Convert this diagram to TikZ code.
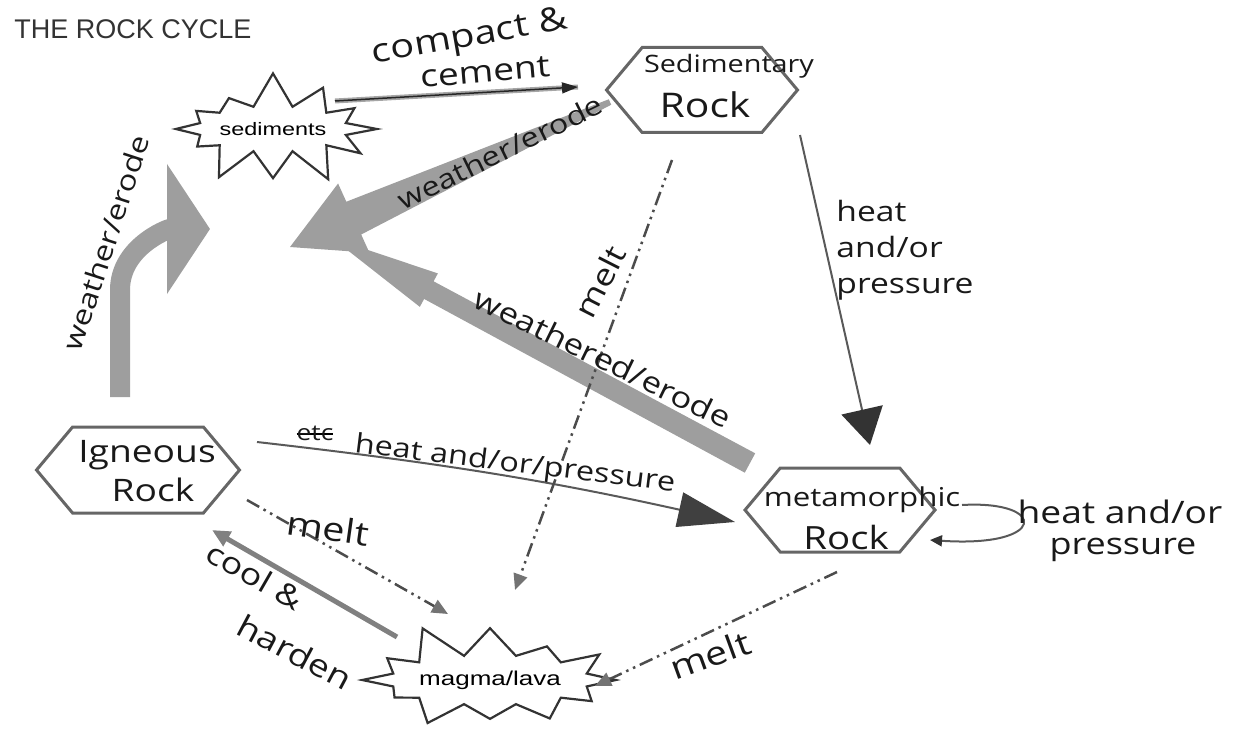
\documentclass[tikz,border=0pt]{standalone}
\usepackage{fontspec}
\newfontfamily\titlefont{Liberation Sans}
\newfontfamily\printfont[FakeStretch=1.3]{Liberation Sans}
\newfontfamily\hwfont[FakeStretch=1.2]{Open Sans}
\usetikzlibrary{arrows.meta,shapes.symbols,calc}

\newcommand\taperarrow[7]{%
  \coordinate (tab) at ($(#2)!#6!(#1)$);
  \fill[#7] ($(#1)!#3!90:(#2)$) -- ($(tab)!#4!-90:(#1)$) -- ($(tab)!#5!-90:(#1)$) -- (#2)
    -- ($(tab)!#5!90:(#1)$) -- ($(tab)!#4!90:(#1)$) -- ($(#1)!#3!-90:(#2)$) -- cycle;}

\begin{document}
\begin{tikzpicture}[x=1pt,y=-1pt,
  hexa/.style={signal, signal to=west and east, signal pointer angle=100,
    draw=black!60, line width=3pt, inner sep=0pt},
  burst/.style={starburst, starburst points=12, starburst point height=36pt,
    draw=black!80, line width=2.2pt, inner sep=0pt},
  hw/.style={font=\hwfont\fontsize{#1}{#1}\selectfont, inner sep=0pt, text=black!90},
  hwml/.style={font=\hwfont\fontsize{#1}{36}\selectfont, inner sep=0pt, align=left, text=black!90},
  blockfill/.style={fill=black!38},
  mdash/.style={draw=black!70, line width=2.5pt,
    dash pattern=on 14pt off 5pt on 2.5pt off 5pt on 2.5pt off 5pt,
    -{Triangle[length=16pt,width=14pt,color=black!55,fill=black!55]}},
  thin/.style={draw=black!65, line width=2pt},
  strike/.style={path picture={\draw[black, line width=1.2pt]
    ([yshift=-1pt]path picture bounding box.west) -- ([yshift=-1pt]path picture bounding box.east);}}
]
\useasboundingbox (0,0) rectangle (1238,738);

% title
\node[font=\titlefont\fontsize{27}{27}\selectfont, text=black!80, inner sep=0pt] (ttl) at (133,29) {THE ROCK CYCLE};

% rock nodes
\node[hexa, minimum width=191pt, minimum height=85pt] (sed) at (702,90) {};
\node[hexa, minimum width=203pt, minimum height=86pt] (ign) at (138,470) {};
\node[hexa, minimum width=190pt, minimum height=84pt] (met) at (840,510) {};
\node[hw=24] (tsed1) at (729,66) {Sedimentary};
\node[hw=34] (tsed2) at (705,105) {Rock};
\node[hw=31] (tign1) at (147,455) {Igneous};
\node[hw=31] (tign2) at (153,490) {Rock};
\node[hw=26] (tmet1) at (862,500) {metamorphic};
\node[hw=32] (tmet2) at (846,537) {Rock};

% starbursts
\node[burst, random starburst=7, minimum width=150pt, minimum height=118pt] (sedim) at (273,129)
  {\printfont\fontsize{18}{18}\selectfont sediments};
\node[burst, random starburst=11, minimum width=185pt, minimum height=122pt] (magma) at (490,680)
  {\printfont\fontsize{20}{20}\selectfont magma/lava};

% connector end points
\coordinate (cc1) at (335,101); \coordinate (cc2) at (578,87);
\coordinate (we1) at (610,102); \coordinate (we2) at (290,247);
\coordinate (wl1) at (120,397); \coordinate (wl2) at (210,229);
\coordinate (wd1) at (750,463); \coordinate (wd2) at (332,238);
\coordinate (ms1) at (672,160); \coordinate (ms2) at (515,590);
\coordinate (hs1) at (800,135); \coordinate (hs2) at (870,445);
\coordinate (hi1) at (257,442); \coordinate (hi2) at (735,522);
\coordinate (mi1) at (247,500); \coordinate (mi2) at (448,614);
\coordinate (ch1) at (397,637); \coordinate (ch2) at (212,530);
\coordinate (mm1) at (837,572); \coordinate (mm2) at (595,686);
\coordinate (lp1) at (962,505); \coordinate (lp2) at (930,540);

% block arrows
\taperarrow{we1}{we2}{3pt}{18pt}{38pt}{70pt}{blockfill}
\taperarrow{wd1}{wd2}{11pt}{10pt}{19pt}{110pt}{blockfill}
\draw[black!38, line width=20pt, -{Triangle[length=43pt,width=128pt]}]
  (wl1) -- (120,290) to[out=90,in=180] (wl2);

% compact & cement
\draw[black!35, line width=5pt] (cc1) -- (cc2);
\draw[black!85, line width=1.5pt, -{Triangle[length=16pt,width=11pt]}] (cc1) -- (cc2);

% heat arrows
\draw[thin, -{Triangle[length=36pt,width=42pt,color=black!80,fill=black!80]}] (hs1) -- (hs2);
\draw[thin, -{Triangle[length=57pt,width=35pt,color=black!75,fill=black!75]}] (hi1) to[bend left=3] (hi2);
\draw[thin, -{Triangle[length=12pt,width=11pt,color=black!80,fill=black!80]}]
  (lp1) .. controls (1048,500) and (1048,548) .. (lp2);

% melt arrows
\draw[mdash] (ms1) -- (ms2);
\draw[mdash] (mi1) -- (mi2);
\draw[mdash] (mm1) -- (mm2);

% cool & harden
\draw[black!50, line width=5pt, -{Triangle[length=18pt,width=16pt]}] (ch1) -- (ch2);

% labels
\node[hw=33, rotate=10] (lcompact) at (470,38) {compact \&};
\node[hw=31, rotate=5] (lcement) at (485,72) {cement};
\node[hw=27, rotate=26] (lwe) at (500,152) {weather/erode};
\node[hw=27, rotate=72] (lwl) at (106,243) {weather/erode};
\node[hw=29, rotate=-26] (lwd) at (603,358) {weathered/erode};
\node[hw=30, rotate=63] (lms) at (600,282) {melt};
\node[hwml=28] (lhs) at (905,250) {heat\\and/or\\pressure};
\node[hw=22, strike] (letc) at (315,433) {etc};
\node[hw=27, rotate=-7] (lhi) at (515,465) {heat and/or/pressure};
\node[hw=33, rotate=-8] (lmi) at (328,528) {melt};
\node[hw=30, rotate=-30] (lcool) at (255,576) {cool \&};
\node[hw=31, rotate=-28] (lhard) at (295,652) {harden};
\node[hw=33, rotate=20] (lmm) at (710,655) {melt};
\node[hw=31] (lhl1) at (1120,512) {heat and/or};
\node[hw=30] (lhl2) at (1123,550) {pressure};
\end{tikzpicture}
\end{document}
